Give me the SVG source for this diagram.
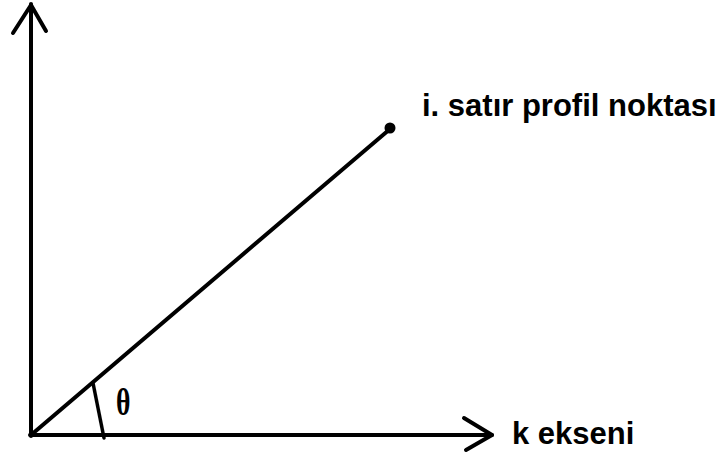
<svg xmlns="http://www.w3.org/2000/svg" width="724" height="456" viewBox="0 0 724 456">
<style>
.ln{stroke:#000;stroke-width:4;fill:none;stroke-linecap:round;stroke-linejoin:round}
.lb{font-family:"Liberation Sans",Arial,sans-serif;font-weight:bold;font-size:31px;fill:#000}
</style>
<rect width="724" height="456" fill="#fff"/>
<g id="connectors">
<path class="ln" d="M31 436 V4"/>
<path class="ln" d="M13 33 L31 5 L46 31"/>
<path class="ln" d="M30 435 H492"/>
<path class="ln" d="M464 418 L492 435 L466 450"/>
<path class="ln" d="M31 435 L390 129"/>
<path class="ln" style="stroke-width:3.5" d="M93 383 L104 438"/>
</g>
<g id="point"><circle cx="390" cy="128" r="5.5" fill="#000"/></g>
<g id="label-point"><text class="lb" x="422" y="116">i. satır profil noktası</text></g>
<g id="label-axis"><text class="lb" x="512" y="444">k ekseni</text></g>
<g id="theta"><text class="lb" transform="translate(116 415) scale(0.75 1)" style="font-family:'Liberation Serif',serif;font-size:37px">θ</text></g>
</svg>
